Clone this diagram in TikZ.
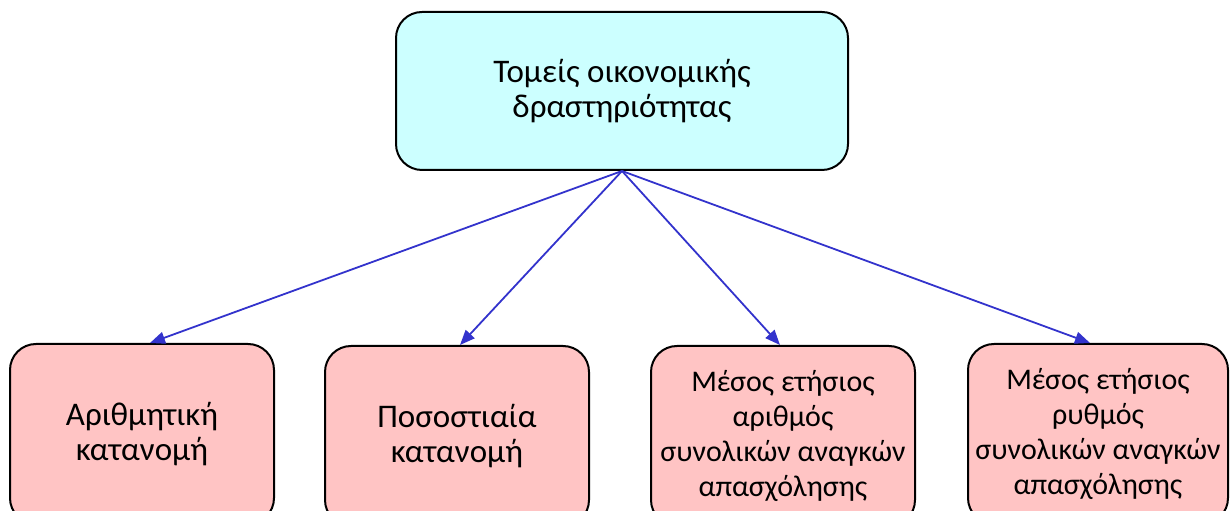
\documentclass[tikz,border=0pt]{standalone}
\usepackage{fontspec}
\setmainfont{Carlito}
\usetikzlibrary{arrows.meta}
\definecolor{topfill}{HTML}{CCFFFF}
\definecolor{boxfill}{HTML}{FFC4C4}
\definecolor{arrowblue}{HTML}{3333CC}
\begin{document}
\begin{tikzpicture}[x=1pt,y=1pt,
  box/.style={draw=black, line width=2pt, rounded corners=26pt, align=center,
    inner sep=0pt, font=\fontsize{33}{35}\selectfont},
  topbox/.style={box, fill=topfill, minimum width=452pt, minimum height=158pt},
  leafbox/.style={box, fill=boxfill, minimum width=264pt, minimum height=180pt},
  longleaf/.style={leafbox, font=\fontsize{30}{35}\selectfont},
  link/.style={draw=arrowblue, line width=1.8pt, -{Triangle[length=15pt,width=12pt]}}]
\useasboundingbox (0,0) rectangle (1231,511);
\clip (0,0) rectangle (1231,511);
\node[topbox] (top) at (622,420) {Τομείς οικονομικής\\δραστηριότητας};
\node[leafbox] (b1) at (142,77) {Αριθμητική\\κατανομή};
\node[leafbox] (b2) at (457,75) {Ποσοστιαία\\κατανομή};
\node[longleaf] (b3) at (783,75) {Μέσος ετήσιος\\αριθμός\\συνολικών αναγκών\\απασχόλησης};
\node[longleaf, minimum width=260pt] (b4) at (1098,77) {Μέσος ετήσιος\\ρυθμός\\συνολικών αναγκών\\απασχόλησης};
\draw[link] (top.south) -- ([xshift=8pt]b1.north);
\draw[link] (top.south) -- ([xshift=3pt]b2.north);
\draw[link] (top.south) -- ([xshift=-3pt]b3.north);
\draw[link] (top.south) -- ([xshift=-8pt]b4.north);
\end{tikzpicture}
\end{document}
